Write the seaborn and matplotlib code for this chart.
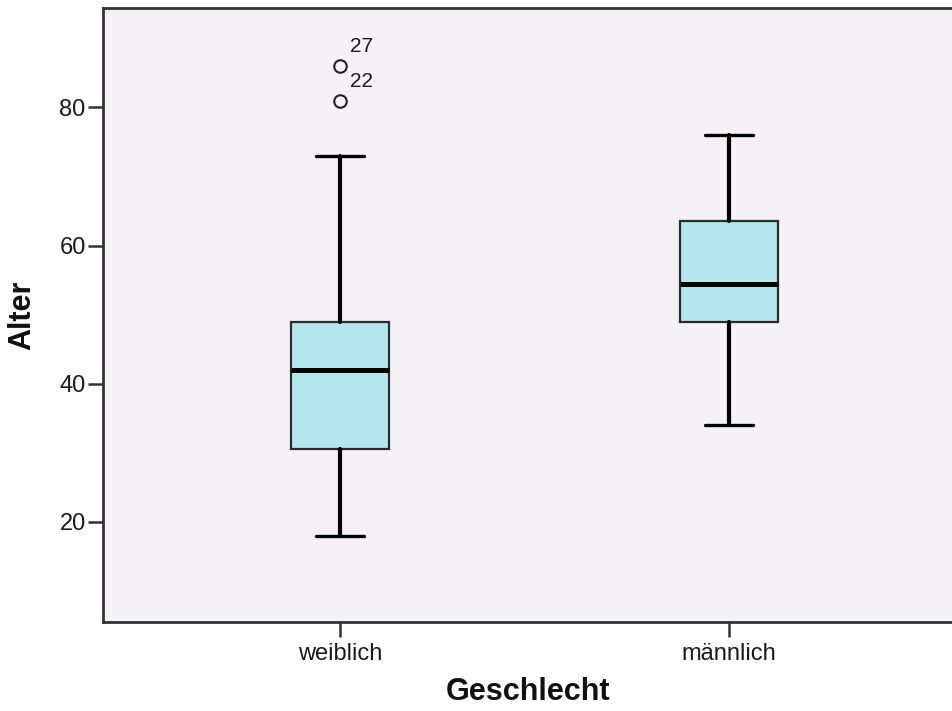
import matplotlib
matplotlib.use("Agg")
import matplotlib.pyplot as plt
import seaborn as sns

# Summary statistics of age (Alter) by sex (Geschlecht)
categories = ["weiblich", "männlich"]
whisker_low = [18, 34]
q1 = [30.5, 49]
median = [42, 54.5]
q3 = [49, 63.5]
whisker_high = [73, 76]
outliers = [[86, 81], []]
outlier_ids = [["27", "22"], []]
y_ticks = [20, 40, 60, 80]

sns.set_theme(style="white")
plt.rcParams["font.family"] = ["Liberation Sans", "DejaVu Sans"]

fig = plt.figure(figsize=(9.53, 7.11), dpi=100)
ax = fig.add_axes([103 / 953, 89 / 711, 850 / 953, 614 / 711])
ax.set_facecolor("#F5F1F5")

stats = []
for i, name in enumerate(categories):
    stats.append({
        "label": name,
        "whislo": whisker_low[i],
        "q1": q1[i],
        "med": median[i],
        "q3": q3[i],
        "whishi": whisker_high[i],
        "fliers": outliers[i],
    })

positions = list(range(len(categories)))
ax.bxp(
    stats,
    positions=positions,
    widths=0.25,
    patch_artist=True,
    showfliers=True,
    boxprops=dict(facecolor="#B4E6EC", edgecolor="#2b2b2b", linewidth=1.6),
    medianprops=dict(color="black", linewidth=3.6),
    whiskerprops=dict(color="black", linewidth=3.0),
    capprops=dict(color="black", linewidth=2.4),
    capwidths=0.125,
    flierprops=dict(marker="o", markersize=9, markerfacecolor="none",
                    markeredgecolor="#222222", markeredgewidth=1.5),
)

# Case numbers next to the outliers
for i, (vals, ids) in enumerate(zip(outliers, outlier_ids)):
    for v, lab in zip(vals, ids):
        ax.annotate(lab, xy=(positions[i], v), xytext=(7, 14),
                    textcoords="offset points", ha="left", va="center",
                    fontsize=15, color="#1a1a1a")

ax.set_xlim(-0.609, 1.576)
ax.set_ylim(5.5, 94.4)
ax.set_xticks(positions)
ax.set_xticklabels(categories)
ax.set_yticks(y_ticks)

ax.tick_params(axis="both", which="both", direction="out", length=11,
               width=1.8, color="#333333", labelsize=17, labelcolor="#1a1a1a",
               left=True, bottom=True)
ax.tick_params(axis="y", pad=1.5)
ax.tick_params(axis="x", pad=4)

for side in ["left", "bottom", "top"]:
    ax.spines[side].set_visible(True)
    ax.spines[side].set_color("#333333")
    ax.spines[side].set_linewidth(2.0)
ax.spines["right"].set_visible(False)

ax.set_xlabel("Geschlecht", fontsize=22, fontweight="bold", labelpad=9,
              color="#111111")
ax.set_ylabel("Alter", fontsize=22, fontweight="bold", labelpad=16,
              color="#111111")

fig.savefig("out.png", dpi=100)
